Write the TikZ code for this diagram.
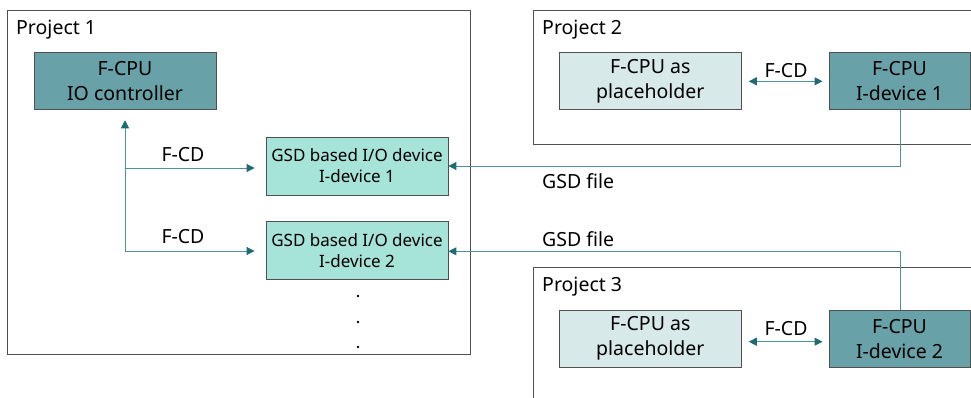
\documentclass[tikz,border=0pt]{standalone}
\usepackage{fontspec}
\setmainfont{Noto Sans}
\usetikzlibrary{arrows.meta}
\definecolor{darkbox}{HTML}{68A1A8}
\definecolor{gsdbox}{HTML}{A6E3D8}
\definecolor{placebox}{HTML}{D8E9E9}
\definecolor{boxline}{HTML}{505050}
\definecolor{conn}{HTML}{4E9299}
\definecolor{tipcol}{HTML}{1F6B73}
\tikzset{
  projbox/.style={draw=boxline, line width=0.9pt},
  blk/.style={draw=boxline, line width=0.9pt, minimum width=182pt, minimum height=57pt, inner sep=0pt, align=center, font=\fontsize{19.5}{25}\selectfont},
  gsd/.style={blk, fill=gsdbox, minimum height=58pt, font=\fontsize{17}{21}\selectfont},
  tip/.tip={Triangle[length=8pt,width=8pt,color=tipcol,fill=tipcol]},
  arr/.style={draw=conn, line width=1pt, -tip},
  darr/.style={draw=conn, line width=1pt, tip-tip},
  lbl/.style={font=\fontsize{19.5}{25}\selectfont, inner sep=0pt}
}
\begin{document}
\begin{tikzpicture}[x=1pt,y=-1pt]
\useasboundingbox (0,0) rectangle (971,397);
\clip (0,0) rectangle (971,397);
% project frames
\draw[projbox] (7.5,10.7) rectangle (470.5,354.3);
\draw[projbox] (533,10.7) rectangle (980,144);
\draw[projbox] (533,267.3) rectangle (980,410);
\node[lbl, anchor=west] (p1) at (16,30) {Project 1};
\node[lbl, anchor=west] (p2) at (542,30) {Project 2};
\node[lbl, anchor=west] (p3) at (542,287) {Project 3};
% blocks
\node[blk, fill=darkbox] (ctrl) at (125,81.3) {F-CPU\\IO controller};
\node[gsd] (gsd1) at (357,166) {GSD based I/O device\\I-device 1};
\node[gsd] (gsd2) at (357,250.5) {GSD based I/O device\\I-device 2};
\node[blk, fill=placebox] (ph2) at (650.3,81.3) {F-CPU as\\placeholder};
\node[blk, fill=darkbox, minimum width=141pt] (id1) at (899.5,81.3) {F-CPU\\I-device 1};
\node[blk, fill=placebox] (ph3) at (650.3,338.7) {F-CPU as\\placeholder};
\node[blk, fill=darkbox, minimum width=141pt] (id2) at (899.5,338.7) {F-CPU\\I-device 2};
% dots
\fill (358,296) circle (1.3);
\fill (358,322) circle (1.3);
\fill (358,347) circle (1.3);
% connectors project 1
\coordinate (corner) at (125,251);
\draw[arr, shorten >=10pt] (corner) -- (ctrl.south);
\draw[arr, shorten >=11pt] (corner |- 0,168) -- (gsd1.west |- 0,168);
\draw[arr, shorten >=11pt] (corner) -- (gsd2.west |- corner);
\node[lbl] (fcd1) at (183,155) {F-CD};
\node[lbl] (fcd2) at (183,237) {F-CD};
% project 2/3 arrows
\draw[darr, shorten <=7pt, shorten >=6pt] (ph2.east) -- (id1.west);
\node[lbl] (fcd3) at (786,71) {F-CD};
\draw[darr, shorten <=7pt, shorten >=6pt] (ph3.east |- 0,341.7) -- (id2.west |- 0,341.7);
\node[lbl] (fcd4) at (786,329) {F-CD};
% GSD file lines
\draw[arr] (id1.south -| 900,0) |- (gsd1.east);
\draw[arr] (id2.north -| 900,0) |- (gsd2.east |- 0,251.3);
\node[lbl, anchor=west] (gf1) at (542,181) {GSD file};
\node[lbl, anchor=west] (gf2) at (542,239) {GSD file};
\end{tikzpicture}
\end{document}
